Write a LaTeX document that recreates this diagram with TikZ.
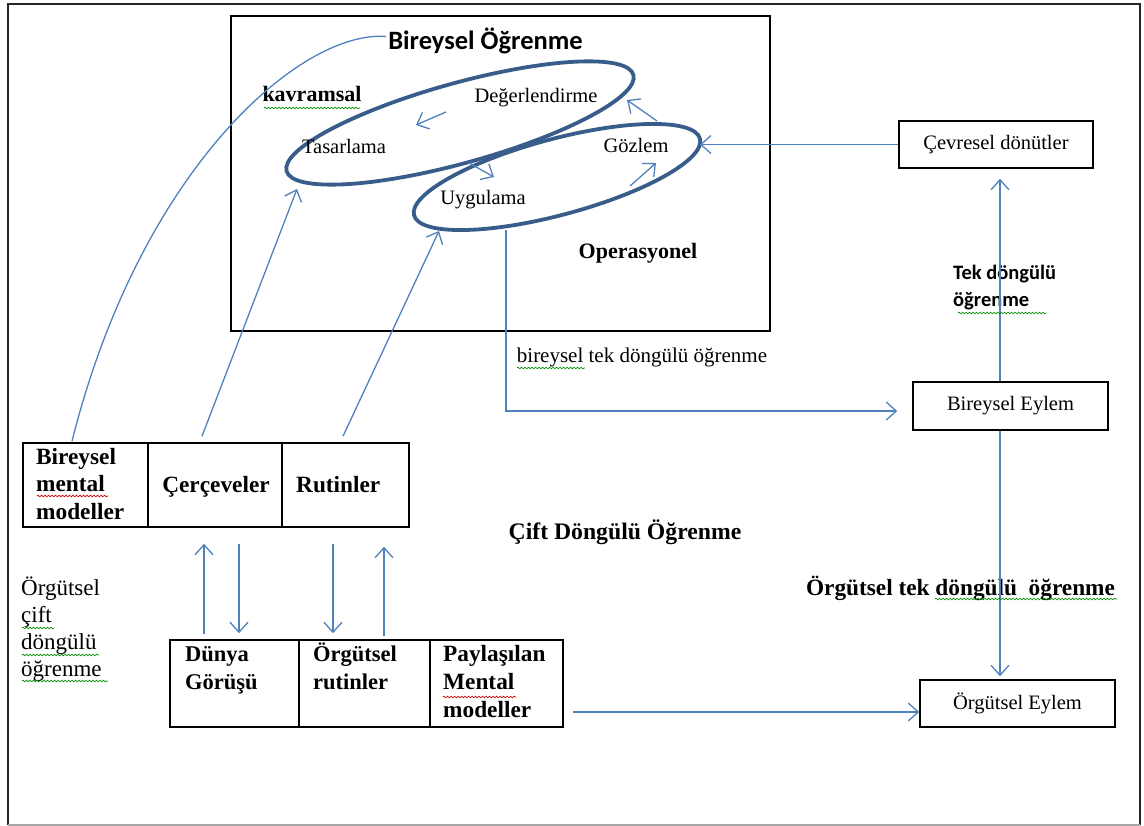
\documentclass[tikz,border=0pt]{standalone}
\usepackage{fontspec}
\setmainfont{Liberation Serif}
\newfontfamily\carlito{Carlito}
\usetikzlibrary{arrows.meta,shapes.geometric,decorations.pathmorphing,calc}
\definecolor{ellblue}{HTML}{385D8A}
\definecolor{arrblue}{HTML}{4F81BD}
\begin{document}
\begin{tikzpicture}[x=1pt,y=-1pt,
  reg/.style={font=\fontsize{20.5}{27}\selectfont, inner sep=0pt},
  bld/.style={font=\fontsize{22}{27.5}\selectfont\bfseries, inner sep=0pt},
  bldl/.style={font=\fontsize{23.3}{27.5}\selectfont\bfseries, inner sep=0pt},
  sbld/.style={font=\carlito\fontsize{20.5}{27}\selectfont\bfseries, inner sep=0pt},
  cell/.style={draw=black, line width=1.6pt, inner sep=0pt},
  actbox/.style={draw=black, line width=1.6pt, inner sep=0pt, font=\fontsize{20.5}{27}\selectfont},
  loop/.style={draw=ellblue, line width=3.8pt, ellipse, inner sep=0pt, outer sep=0pt},
  link/.style={draw=arrblue, line width=1.3pt},
  arr/.style={link, -{Straight Barb[length=10pt,width=18pt,line width=1.3pt]}},
  spellg/.style={draw=green!55!black, line width=0.7pt, decorate,
    decoration={snake, amplitude=0.8pt, segment length=3.5pt}},
  spellr/.style={spellg, draw=red!80!black}
]
\useasboundingbox (0,0) rectangle (1144,826);

% page frame
\draw[line width=2.5pt, black!85] (8,825) -- (8,4) -- (1140,4) -- (1140,825);
\draw[line width=2pt, black!35] (8,825) -- (1140,825);

% individual learning box
\node[draw=black, line width=1.8pt, minimum width=539pt, minimum height=315pt] (ind) at (500.5,173.5) {};
\node[font=\carlito\fontsize{26.5}{30}\selectfont\bfseries, inner sep=0pt, anchor=base] (tit) at (485.5,50) {Bireysel Öğrenme};

% the two learning loops
\node[loop, minimum width=360pt, minimum height=80pt, rotate=15.5] (e1) at (460,123) {};
\node[loop, minimum width=296pt, minimum height=76pt, rotate=15] (e2) at (557,177) {};

\node[bld, anchor=base] (kav) at (312,102) {kavramsal};
\node[reg, anchor=base] (deg) at (536,103) {Değerlendirme};
\node[reg, anchor=base] (tas) at (344,154) {Tasarlama};
\node[reg, anchor=base] (uyg) at (483,205) {Uygulama};
\node[reg, anchor=base] (goz) at (636,153) {Gözlem};
\node[bld, anchor=base] (ope) at (638,259) {Operasyonel};

% cycle arrows inside the loops
\coordinate (a1s) at (446,112); \coordinate (a1e) at (416,125);
\coordinate (a2s) at (469,163); \coordinate (a2e) at (494,177);
\coordinate (a3s) at (630,186); \coordinate (a3e) at (656,163);
\coordinate (a4s) at (657,121); \coordinate (a4e) at (627,100);
\draw[arr] (a1s) -- (a1e);
\draw[arr] (a2s) -- (a2e);
\draw[arr] (a3s) -- (a3e);
\draw[arr] (a4s) -- (a4e);

% right column boxes
\node[actbox, minimum width=194pt, minimum height=47pt] (cev) at (996,144.5) {Çevresel dönütler};
\node[actbox, minimum width=195pt, minimum height=48pt] (bey) at (1010.5,406) {Bireysel Eylem};
\node[actbox, minimum width=195pt, minimum height=47pt] (oey) at (1017.5,703.5) {Örgütsel Eylem};

% mental model tables
\node[cell, minimum width=125pt, minimum height=84pt] (bmm) at (85.5,485) {};
\node[cell, minimum width=134pt, minimum height=84pt] (cer) at (215,485) {};
\node[cell, minimum width=127pt, minimum height=84pt] (rut) at (345.5,485) {};
\node[cell, minimum width=129pt, minimum height=87pt] (dun) at (234.5,683.5) {};
\node[cell, minimum width=131pt, minimum height=87pt] (org) at (364.5,683.5) {};
\node[cell, minimum width=133pt, minimum height=87pt] (pay) at (496.5,683.5) {};

% multi-line labels are placed by the baseline of their last line
\node[bldl, align=left, anchor=base west] (bmmt) at (36,519) {Bireysel\\mental\\modeller};
\node[bldl, anchor=base] (cert) at (216,492) {Çerçeveler};
\node[bldl, anchor=base west] (rutt) at (296,492) {Rutinler};
\node[bld, align=left, anchor=base west, font=\fontsize{22.5}{28}\selectfont\bfseries] (dunt) at (185,689) {Dünya\\Görüşü};
\node[bld, align=left, anchor=base west, font=\fontsize{22.5}{28}\selectfont\bfseries] (orgt) at (313,689) {Örgütsel\\rutinler};
\node[bld, align=left, anchor=base west, font=\fontsize{23.3}{28}\selectfont\bfseries] (payt) at (443,717) {Paylaşılan\\Mental\\modeller};

% free labels
\node[reg, align=left, anchor=base west, font=\fontsize{23}{26.7}\selectfont] (ocd) at (21,676) {Örgütsel\\çift\\döngülü\\öğrenme};
\node[bld, anchor=base, font=\fontsize{23.7}{28}\selectfont\bfseries] (cdo) at (625,539) {Çift Döngülü Öğrenme};
\node[reg, anchor=base, font=\fontsize{21}{27}\selectfont] (btd) at (642,363) {bireysel tek döngülü öğrenme};
\node[sbld, align=left, anchor=base west] (tdo) at (953,307) {Tek döngülü\\öğrenme};
\node[bldl, anchor=base] (otd) at (960.5,595) {Örgütsel tek döngülü~ öğrenme};

% connectors
\coordinate (vx) at (1000,0);
\draw[arr] (cev.west) -- (cev.west -| e2.east);
\draw[arr, shorten >=10pt] (vx |- bey.north) -- (vx |- cev.south);
\draw[arr, shorten >=3pt] (vx |- bey.south) -- (vx |- oey.north);
\coordinate (u0) at (506,230);
\draw[arr, shorten >=15pt] (u0) |- ([yshift=-5pt]bey.west);
\coordinate (p0) at (573,712);
\draw[arr] (p0) -- (p0 -| oey.west);

\coordinate (t1) at (297,189);
\coordinate (t2) at (439,231);
\draw[arr] ($(cer.north)+(-13,-6)$) -- (t1);
\draw[arr] ($(rut.north)+(-2.5,-6)$) -- (t2);
\draw[link] ($(bmm.north)+(-13.5,-1)$) .. controls (140,170) and (300,30) .. ([xshift=-2pt,yshift=5pt]tit.west);

\draw[arr] ($(dun.north)+(-30.5,-5)$) -- ($(cer.south)+(-11,16)$);
\draw[arr] ($(cer.south)+(24,16)$) -- ($(dun.north)+(4.5,-6)$);
\draw[arr] ($(rut.south)+(-12.5,16)$) -- ($(org.north)+(-31.5,-6)$);
\draw[arr] ($(org.north)+(19.5,-3)$) -- ($(rut.south)+(38.5,19)$);

% proofing underlines
\draw[spellg] (264,108) -- (360,108);
\draw[spellg] (517,368) -- (585,368);
\draw[spellg] (958,313) -- (1046,313);
\draw[spellg] (22,628) -- (54,628);
\draw[spellg] (22,655) -- (99,655);
\draw[spellg] (22,681) -- (108,681);
\draw[spellg] (935,599) -- (1117,599);
\draw[spellr] (37,496) -- (108,496);
\draw[spellr] (443,697) -- (516,697);
\end{tikzpicture}
\end{document}
